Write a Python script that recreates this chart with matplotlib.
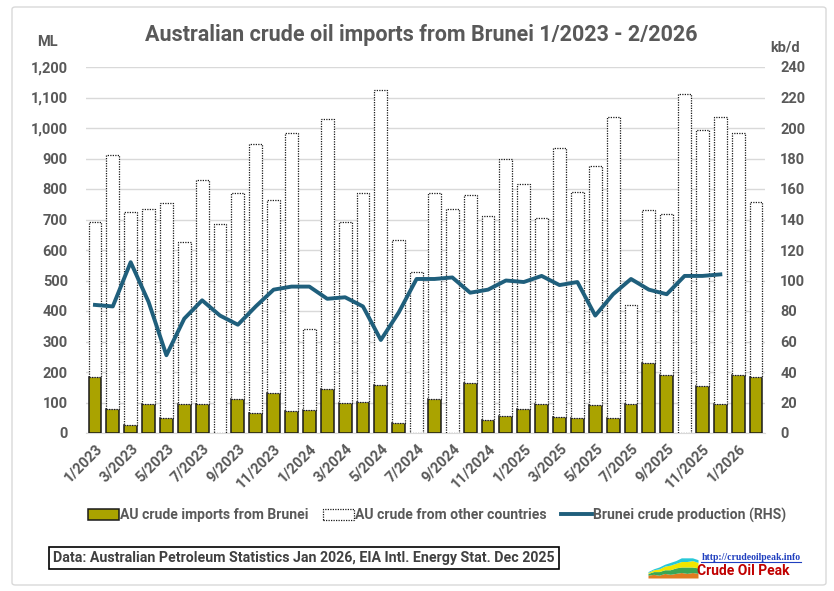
import matplotlib.pyplot as plt
import numpy as np
from matplotlib.patches import Patch, FancyBboxPatch
from matplotlib.lines import Line2D

months = ['1/2023', '2/2023', '3/2023', '4/2023', '5/2023', '6/2023', '7/2023', '8/2023',
          '9/2023', '10/2023', '11/2023', '12/2023', '1/2024', '2/2024', '3/2024', '4/2024',
          '5/2024', '6/2024', '7/2024', '8/2024', '9/2024', '10/2024', '11/2024', '12/2024',
          '1/2025', '2/2025', '3/2025', '4/2025', '5/2025', '6/2025', '7/2025', '8/2025',
          '9/2025', '10/2025', '11/2025', '12/2025', '1/2026', '2/2026']

# ML per month
brunei_imports = [185, 79, 25, 96, 49, 96, 96, 0, 111, 64, 130, 73,
                  76, 144, 98, 101, 158, 33, 0, 111, 0, 164, 44, 55,
                  80, 96, 51, 48, 92, 48, 96, 229, 191, 0, 153, 96,
                  191, 185]
other_imports = [508, 832, 698, 637, 704, 530, 735, 685, 677, 882, 634, 912,
                 264, 887, 595, 687, 966, 599, 527, 677, 733, 615, 668, 845,
                 735, 610, 882, 741, 783, 988, 324, 502, 526, 1113, 842, 940,
                 794, 573]

# kb/d, data only up to 12/2025
brunei_production = [84, 83, 112, 86, 51, 75, 87, 77, 71, 83, 94, 96,
                     96, 88, 89, 83, 61, 79, 101, 101, 102, 92, 94, 100,
                     99, 103, 97, 99, 77, 91, 101, 94, 91, 103, 103, 104]

# tiny logo area chart
logo_layers = [[3, 4, 3, 5, 4, 5, 6, 5, 6, 5],
               [2, 3, 4, 4, 5, 6, 6, 7, 6, 6],
               [1, 2, 3, 4, 5, 5, 6, 6, 7, 6],
               [1, 1, 2, 2, 3, 3, 4, 4, 3, 3]]
logo_colors = ['#e07b20', '#3aa655', '#f2e600', '#28c8d8']

olive = '#aaa300'
line_col = '#1f5f7c'
grey = '#595959'
plt.rcParams['font.family'] = ['Roboto', 'DejaVu Sans']

fig = plt.figure(figsize=(8.34, 5.91), dpi=100)
fig.patches.append(FancyBboxPatch((12 / 834, 6 / 591), 814 / 834, 578 / 591,
                                  boxstyle='round,pad=0,rounding_size=0.004',
                                  transform=fig.transFigure, facecolor='none',
                                  edgecolor='#d9d9d9', linewidth=1, zorder=-5))

ax = fig.add_axes([86 / 834, 1 - 433 / 591, 679 / 834, 366 / 591])
x = np.arange(len(months))
w = 0.72
ax.bar(x, brunei_imports, w, color=olive, edgecolor='#1a1a1a', linewidth=1.1, zorder=3)
ax.bar(x, other_imports, w, bottom=brunei_imports, color='white', edgecolor='#1a1a1a',
       linewidth=0.9, linestyle=(0, (1, 1)), zorder=3)
ax.set_xlim(-0.5, len(months) - 0.5)
ax.set_ylim(0, 1200)
ax.set_yticks(range(0, 1201, 100))
ax.set_yticklabels([f'{v:,}' for v in range(0, 1201, 100)])
ax.grid(axis='y', color='#d9d9d9', linewidth=1, zorder=0)
ax.set_axisbelow(True)
for s in ['top', 'right', 'left']:
    ax.spines[s].set_visible(False)
ax.spines['bottom'].set_color('#d9d9d9')
ax.set_xticks(x[::2])
ax.set_xticklabels(months[::2], rotation=45, ha='right', va='top', rotation_mode='anchor')
ax.tick_params(axis='both', length=0, labelsize=10.5, labelcolor=grey)
ax.tick_params(axis='y', pad=13)
ax.tick_params(axis='x', pad=6)
for lab in ax.get_xticklabels() + ax.get_yticklabels():
    lab.set_fontweight('bold')

ax2 = ax.twinx()
ax2.plot(x[:len(brunei_production)], brunei_production, color=line_col, linewidth=2.8, zorder=4)
ax2.set_ylim(0, 240)
ax2.set_yticks(range(0, 241, 20))
for s in ax2.spines.values():
    s.set_visible(False)
ax2.tick_params(axis='y', length=0, labelsize=10.5, labelcolor=grey, pad=11)
for lab in ax2.get_yticklabels():
    lab.set_fontweight('bold')

fig.text(421 / 834, 1 - 35 / 591, 'Australian crude oil imports from Brunei 1/2023 - 2/2026',
         ha='center', va='center', fontsize=15.5, fontweight='bold', color=grey)
fig.text(47 / 834, 1 - 42 / 591, 'ML', ha='center', va='center', fontsize=10.5,
         fontweight='bold', color=grey)
fig.text(785 / 834, 1 - 47 / 591, 'kb/d', ha='center', va='center', fontsize=10.5,
         fontweight='bold', color=grey)

handles = [Patch(facecolor=olive, edgecolor='#1a1a1a', linewidth=1.1),
           Patch(facecolor='white', edgecolor='#1a1a1a', linewidth=0.9, linestyle=(0, (1, 1))),
           Line2D([0], [0], color=line_col, linewidth=2.8)]
labels = ['AU crude imports from Brunei', 'AU crude from other countries',
          'Brunei crude production (RHS)']
leg = fig.legend(handles, labels, loc='center', bbox_to_anchor=(437 / 834, 1 - 515 / 591),
                 ncol=3, frameon=False, handlelength=2.2, handleheight=0.8, handletextpad=0.1,
                 columnspacing=1.0, prop={'weight': 'bold', 'size': 10.1})
for t in leg.get_texts():
    t.set_color(grey)

fig.text(53 / 834, 1 - 558 / 591,
         'Data: Australian Petroleum Statistics Jan 2026, EIA Intl. Energy Stat. Dec 2025',
         ha='left', va='center', fontsize=10.2, fontweight='bold', color='#404040',
         bbox=dict(boxstyle='square,pad=0.3', facecolor='white', edgecolor='black', linewidth=1.2))

# logo
lax = fig.add_axes([648 / 834, 1 - 578 / 591, 50 / 834, 22 / 591])
base = np.zeros(len(logo_layers[0]))
for layer, c in zip(logo_layers, logo_colors):
    lax.fill_between(range(len(layer)), base, base + np.array(layer), color=c, linewidth=0)
    base = base + np.array(layer)
lax.set_xlim(0, len(logo_layers[0]) - 1)
lax.set_ylim(0, 24)
lax.axis('off')
fig.text(751 / 834, 1 - 557 / 591, 'http://crudeoilpeak.info', ha='center', va='center',
         fontsize=7, fontweight='bold', color='#1f3fbf', family='Liberation Serif')
fig.add_artist(Line2D([701 / 834, 801 / 834], [1 - 562 / 591, 1 - 562 / 591],
                      color='#1f3fbf', linewidth=0.8))
fig.text(743 / 834, 1 - 571 / 591, 'Crude Oil Peak', ha='center', va='center',
         fontsize=10, fontweight='bold', color='#c00000')

fig.savefig('out.png', dpi=100)
